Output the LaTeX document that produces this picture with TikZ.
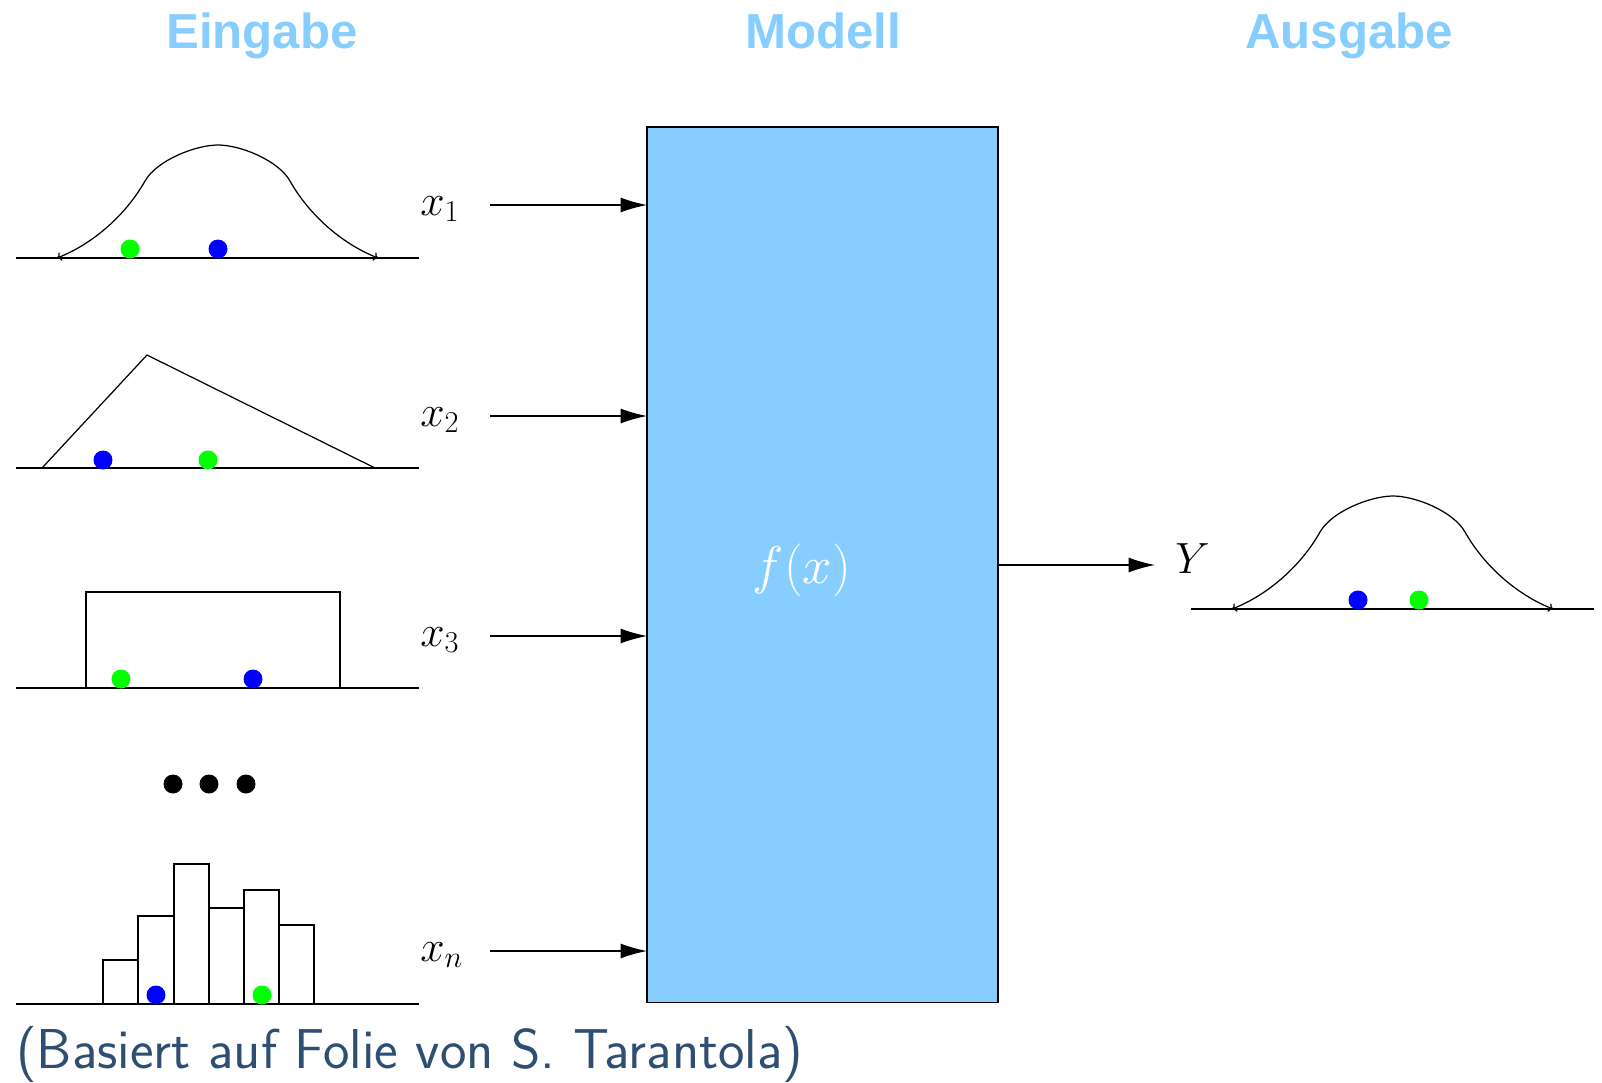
\documentclass[tikz,border=0pt]{standalone}
\usepackage{graphicx}
\usepackage{fontspec}
\newfontfamily\titlefont{Liberation Sans}
\usetikzlibrary{arrows.meta}
\definecolor{skyb}{RGB}{135,206,255}
\definecolor{capt}{RGB}{46,79,114}
\definecolor{dotgreen}{RGB}{0,255,0}
\definecolor{dotblue}{RGB}{0,0,255}
\begin{document}
\begin{tikzpicture}[x=0.02cm,y=-0.02cm,
  line/.style={line width=0.7pt},
  arr/.style={line width=0.7pt,-{Latex[length=15pt,width=8.5pt]}},
  curve/.style={line width=0.7pt, arrows={To[length=2.5pt,width=5pt]-To[length=2.5pt,width=5pt]}},
  title/.style={font=\titlefont\bfseries\fontsize{28}{34}\selectfont, text=skyb, anchor=base, inner sep=0pt},
  lab/.style={font=\fontsize{25}{30}\selectfont, anchor=base west, inner sep=0pt},
  gdot/.style={fill=dotgreen},
  bdot/.style={fill=dotblue},
  kdot/.style={fill=black},
  modelbox/.style={draw=black, line width=0.7pt, fill=skyb, inner sep=0pt, outer sep=0pt,
    minimum width=7.02cm, minimum height=17.52cm, anchor=north west},
  gauss/.pic={\draw[curve] (0,0) .. controls (38,-15) and (70,-45) .. (88,-77)
      .. controls (100,-98) and (139,-113) .. (161,-113)
      .. controls (183,-113) and (221,-98) .. (233,-77)
      .. controls (251,-45) and (283,-15) .. (321,0);}
]
\useasboundingbox (0,0) rectangle (1602,1082);

% titles
\node[title] (tin) at (262,48) {Eingabe};
\node[title] (tmod) at (823,48) {Modell};
\node[title] (tout) at (1349,48) {Ausgabe};

% model box
\node[modelbox] (model) at (647,127) {};
\node[text=white, font=\fontsize{25}{30}\selectfont] (f) at (802,570) {\scalebox{1.21}{$f(x)$}};

% input labels
\node[lab] (l1) at (420,215) {$x_1$};
\node[lab] (l2) at (420,426) {$x_2$};
\node[lab] (l3) at (420,646) {$x_3$};
\node[lab] (ln) at (420,961) {$x_n$};

% arrows in
\coordinate (a1) at (490,205);
\coordinate (a2) at (490,416);
\coordinate (a3) at (490,636);
\coordinate (an) at (490,951);
\draw[arr] (a1) -- (a1 -| model.west);
\draw[arr] (a2) -- (a2 -| model.west);
\draw[arr] (a3) -- (a3 -| model.west);
\draw[arr] (an) -- (an -| model.west);

% arrow out
\coordinate (o) at (1155,565);
\draw[arr] (model.east |- o) -- (o);
\node[lab] (ly) at (1175,573) {$Y$};

% distribution 1: gauss
\draw[line] (16,258) -- (419,258);
\pic at (57,258) {gauss};
\fill[gdot] (130,249) circle[radius=0.19cm];
\fill[bdot] (218,249) circle[radius=0.19cm];

% distribution 2: triangle
\draw[line] (16,468) -- (419,468);
\draw[line] (42,468) -- (147,355) -- (375,468);
\fill[bdot] (103,460) circle[radius=0.19cm];
\fill[gdot] (208,460) circle[radius=0.19cm];

% distribution 3: uniform
\draw[line] (16,688) -- (419,688);
\draw[line] (86,688) -- (86,592) -- (340,592) -- (340,688);
\fill[gdot] (121,679) circle[radius=0.19cm];
\fill[bdot] (253,679) circle[radius=0.19cm];

% ellipsis
\fill[kdot] (173,784) circle[radius=0.19cm];
\fill[kdot] (209,784) circle[radius=0.19cm];
\fill[kdot] (246,784) circle[radius=0.19cm];

% histogram
\draw[line] (103,1004) rectangle (138,960);
\draw[line] (138,1004) rectangle (174,916);
\draw[line] (174,1004) rectangle (209,864);
\draw[line] (209,1004) rectangle (244,908);
\draw[line] (244,1004) rectangle (279,890);
\draw[line] (279,1004) rectangle (314,925);
\draw[line] (16,1004) -- (419,1004);
\fill[bdot] (156,995) circle[radius=0.19cm];
\fill[gdot] (262,995) circle[radius=0.19cm];

% output distribution
\draw[line] (1191,609) -- (1594,609);
\pic at (1232,609) {gauss};
\fill[bdot] (1358,600) circle[radius=0.19cm];
\fill[gdot] (1419,600) circle[radius=0.19cm];

% caption
\node[anchor=base west, inner sep=0pt, text=capt, font=\sffamily\fontsize{32}{38}\selectfont] (cap) at (16,1068) {(Basiert auf Folie von S. Tarantola)};
\end{tikzpicture}
\end{document}
